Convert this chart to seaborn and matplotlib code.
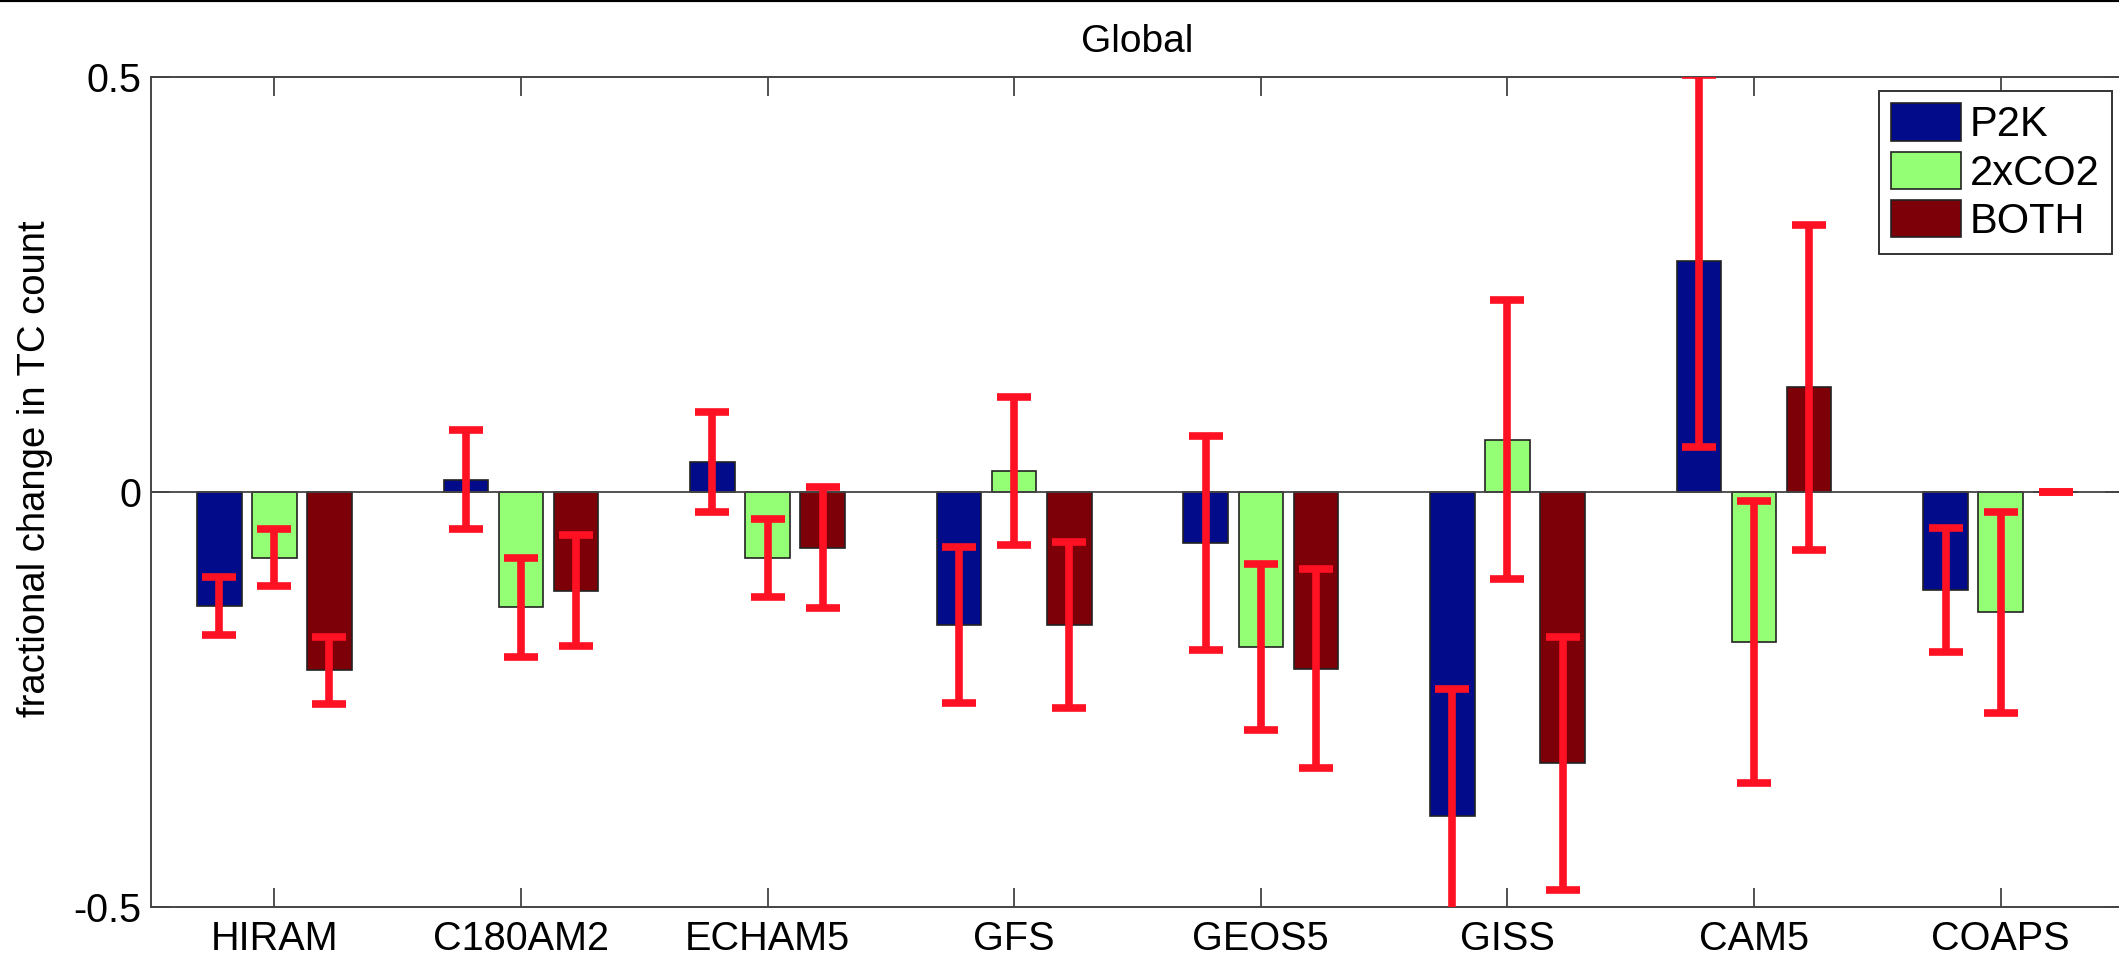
import pandas as pd
import matplotlib
matplotlib.use('Agg')
import matplotlib.pyplot as plt
from matplotlib.patches import Patch
from matplotlib.lines import Line2D
import seaborn as sns

# valores
models = ['HIRAM', 'C180AM2', 'ECHAM5', 'GFS', 'GEOS5', 'GISS', 'CAM5', 'COAPS']
scenarios = ['P2K', '2xCO2', 'BOTH']
p2k = [-0.137, 0.015, 0.036, -0.160, -0.061, -0.390, 0.278, -0.118]
p2k_err = [0.035, 0.060, 0.060, 0.094, 0.129, 0.153, 0.224, 0.075]
co2 = [-0.079, -0.139, -0.079, 0.025, -0.187, 0.063, -0.181, -0.145]
co2_err = [0.034, 0.060, 0.047, 0.089, 0.100, 0.168, 0.170, 0.121]
both = [-0.215, -0.119, -0.067, -0.160, -0.213, -0.327, 0.126, 0.0]
both_err = [0.040, 0.067, 0.073, 0.100, 0.120, 0.152, 0.196, 0.0]

colors = ['#020C8A', '#94FE74', '#7D0008']
err_color = '#FF1124'

df = pd.DataFrame({
    'model': models * 3,
    'scenario': [s for s in scenarios for _ in models],
    'value': p2k + co2 + both,
})
errs = [p2k_err, co2_err, both_err]

sns.set_style('white')
plt.rcParams['font.family'] = ['Liberation Sans', 'DejaVu Sans']
plt.rcParams['text.color'] = 'black'
plt.rcParams['axes.labelcolor'] = 'black'

fig = plt.figure(figsize=(21.19, 9.6), dpi=100)
ax = fig.add_axes([151 / 2119, 53 / 960, 1973 / 2119, 830 / 960])

sns.barplot(data=df, x='model', y='value', hue='scenario', order=models,
            hue_order=scenarios, palette=colors, saturation=1, width=0.67,
            gap=0.19, errorbar=None, edgecolor='#222222', linewidth=1.2,
            legend=False, ax=ax)

# barras de error rojas en el centro de cada barra
for cont, err in zip(ax.containers, errs):
    xs = [b.get_x() + b.get_width() / 2 for b in cont]
    ys = list(cont.datavalues)
    ax.errorbar(xs, ys, yerr=err, fmt='none', ecolor=err_color,
                elinewidth=5.5, capsize=12.5, capthick=5.5, zorder=4)

ax.axhline(0, color='#444444', lw=1.3, zorder=1.5)

ax.set_xlim(-0.5, 7.5)
ax.set_ylim(-0.5, 0.5)
ax.set_yticks([-0.5, 0, 0.5])
ax.set_yticklabels(['-0.5', '0', '0.5'])
ax.set_xlabel('')
ax.set_ylabel('fractional change in TC count', fontsize=27.5)
ax.yaxis.set_label_coords(-0.0497, 0.528)
ax.set_title('Global', fontsize=28, pad=18, color='black')

ax.tick_params(axis='both', direction='in', length=14, width=1.2,
               color='#333333', labelcolor='black', labelsize=28.5,
               top=True, right=True, bottom=True, left=True)
ax.tick_params(axis='x', pad=9)
ax.tick_params(axis='y', pad=7)
for sp in ax.spines.values():
    sp.set_visible(True)
    sp.set_color('#444444')
    sp.set_linewidth(1.4)

handles = [Patch(facecolor=c, edgecolor='#222222', linewidth=1.2) for c in colors]
leg = ax.legend(handles, scenarios, loc='upper right',
                bbox_to_anchor=(2112 / 2119, 1 - 91 / 960),
                bbox_transform=fig.transFigure, borderaxespad=0,
                fontsize=30, handlelength=1.68, handleheight=1.0,
                handletextpad=0.2, borderpad=0.3, labelspacing=0.15,
                fancybox=False, framealpha=1, edgecolor='#333333')
leg.get_frame().set_linewidth(1.4)

fig.add_artist(Line2D([0, 1], [1, 1], transform=fig.transFigure,
                      color='black', lw=3))

fig.savefig('out.png', dpi=100, facecolor='white')
